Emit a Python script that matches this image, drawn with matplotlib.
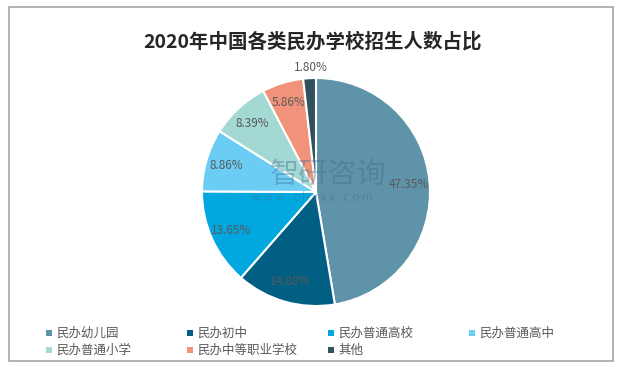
import matplotlib
matplotlib.use('Agg')
import matplotlib.pyplot as plt
from matplotlib.patches import Rectangle

plt.rcParams['font.family'] = ['Noto Sans CJK SC', 'DejaVu Sans']

labels = ['民办幼儿园', '民办初中', '民办普通高校', '民办普通高中',
          '民办普通小学', '民办中等职业学校', '其他']
shares = [47.35, 14.08, 13.65, 8.86, 8.39, 5.86, 1.80]
colors = ['#5F93A9', '#005F82', '#00A8DF', '#6BCDF4', '#A3D8D3', '#F0937A', '#33505F']

W, H = 620, 367
fig = plt.figure(figsize=(6.2, 3.67), dpi=100)
fig.patch.set_facecolor('white')

# outer frame
fig.patches.append(Rectangle((9 / W, 1 - 361 / H), 604 / W, 354 / H,
                             transform=fig.transFigure, fill=False,
                             edgecolor='#A6A6A6', linewidth=1.2))

fig.text(313 / W, 1 - 42 / H, '2020年中国各类民办学校招生人数占比',
         ha='center', va='center', fontsize=14, fontweight='bold', color='#262626')

# pie
cx, cy, r = 316, 192, 114
ax = fig.add_axes([(cx - r) / W, 1 - (cy + r) / H, 2 * r / W, 2 * r / H])
wedges, texts, autotexts = ax.pie(
    shares, colors=colors, startangle=90, counterclock=False,
    autopct='%.2f%%', pctdistance=0.82,
    wedgeprops=dict(edgecolor='white', linewidth=1.5),
    textprops=dict(color='#595959', fontsize=8.5))
# the small slice label sits outside
autotexts[-1].set_position((autotexts[-1].get_position()[0], 1.09))
ax.set_xlim(-1, 1)
ax.set_ylim(-1, 1)
ax.axis('off')

# watermark
fig.text(328 / W, 1 - 175 / H, '智研咨询', ha='center', va='center',
         fontsize=21, color='#3E6E8E', alpha=0.4)
fig.text(312 / W, 1 - 198 / H, 'w w w . c h y x x . c o m', ha='center', va='center',
         fontsize=8.5, color='#3E6E8E', alpha=0.4)

# legend
col_x = [46, 187, 328, 469]
row_y = [333, 350]
for i, (lab, c) in enumerate(zip(labels, colors)):
    x = col_x[i % 4]
    y = row_y[i // 4]
    fig.patches.append(Rectangle((x / W, 1 - (y + 3) / H), 6 / W, 6 / H,
                                 transform=fig.transFigure, facecolor=c,
                                 edgecolor='none'))
    fig.text((x + 10) / W, 1 - y / H, lab, ha='left', va='center',
             fontsize=9, color='#595959')

fig.savefig('out.png', dpi=100)
